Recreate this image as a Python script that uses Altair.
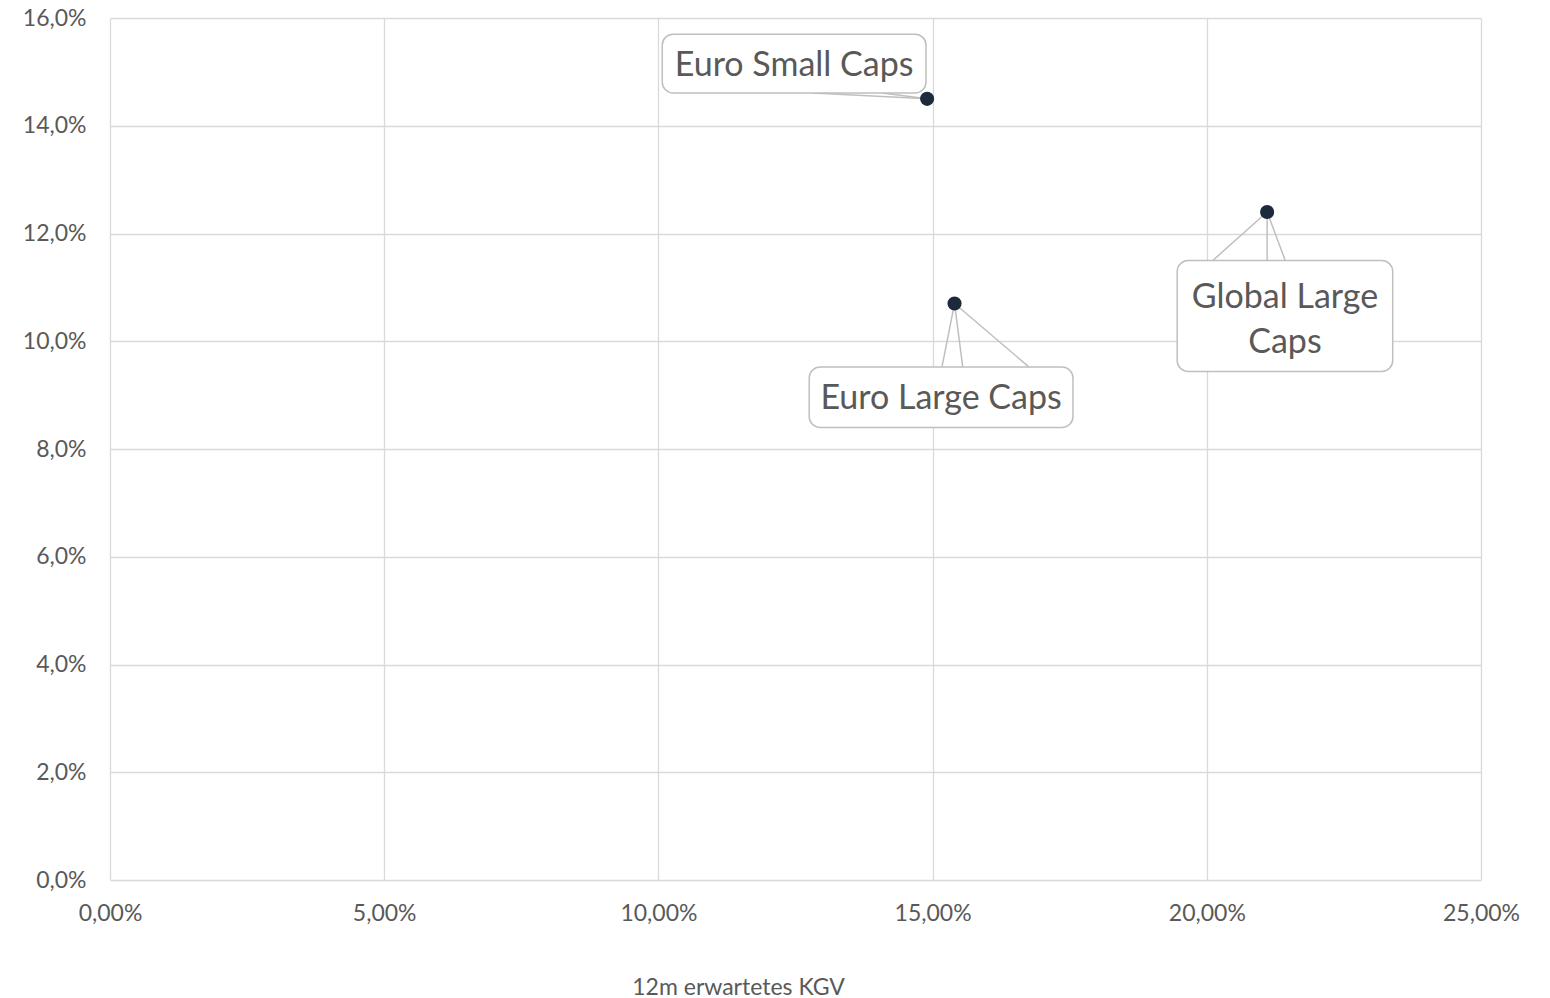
import altair as alt
import pandas as pd

# Scatter data: expected 12m P/E (x, %) vs. return (y, %)
names = ["Euro Small Caps", "Euro Large Caps", "Global Large Caps"]
kgv = [14.9, 15.4, 21.1]
rendite = [14.5, 10.7, 12.4]

# Axis ticks
x_ticks = [0, 5, 10, 15, 20, 25]
y_ticks = [0, 2, 4, 6, 8, 10, 12, 14, 16]

# Callout layout in data units (box extents and pointer base points)
label_text = ["Euro Small Caps", "Euro Large Caps", "Global Large\nCaps"]
box_x0 = [10.07, 12.75, 19.46]
box_x1 = [14.88, 17.56, 23.39]
box_y0 = [14.61, 8.40, 9.44]
box_y1 = [15.70, 9.52, 11.50]
pointer_owner = [0, 0, 1, 1, 1, 2, 2, 2]
pointer_x = [12.82, 14.08, 15.17, 15.55, 16.76, 20.11, 21.10, 21.43]
pointer_y = [14.61, 14.61, 9.52, 9.52, 9.52, 11.50, 11.50, 11.50]

FONT = "Lato"
TEXT = "#595959"
GRID = "#d9d9d9"
PLOT_W, PLOT_H = 1371, 862
LINE_H = 45  # px between label lines

points = pd.DataFrame({"name": names, "x": kgv, "y": rendite})
boxes = pd.DataFrame({
    "label": label_text,
    "x0": box_x0, "x1": box_x1, "y0": box_y0, "y1": box_y1,
})
boxes["cx"] = (boxes.x0 + boxes.x1) / 2
# first text line sits above the box centre when the label wraps
n_lines = boxes.label.str.count("\n") + 1
boxes["cy"] = (boxes.y0 + boxes.y1) / 2 + (n_lines - 1) * (LINE_H - 6) / 2 * 16 / PLOT_H
pointers = pd.DataFrame({
    "x": [kgv[i] for i in pointer_owner],
    "y": [rendite[i] for i in pointer_owner],
    "x2": pointer_x,
    "y2": pointer_y,
})

xs = alt.Scale(domain=[0, 25], nice=False)
ys = alt.Scale(domain=[0, 16], nice=False)

x_axis = alt.Axis(
    values=x_ticks, grid=True, gridColor=GRID, gridWidth=1.3, domain=False, ticks=False,
    labelExpr="replace(format(datum.value, '.2f'), '.', ',') + '%'",
    labelFont=FONT, labelFontSize=23, labelColor=TEXT, labelPadding=22,
    labelAlign="center", labelFlush=False, labelOverlap=False,
    title="12m erwartetes KGV", titleFont=FONT, titleFontSize=23, titleFontWeight="normal",
    titleColor=TEXT, titleX=628, titleY=107, titleAlign="center", titleBaseline="middle",
)
y_axis = alt.Axis(
    values=y_ticks, grid=True, gridColor=GRID, gridWidth=1.3, domain=False, ticks=False,
    labelExpr="replace(format(datum.value, '.1f'), '.', ',') + '%'",
    labelFont=FONT, labelFontSize=23, labelColor=TEXT, labelPadding=24,
    labelBaseline="middle", labelFlush=False, labelOverlap=False, title=None,
)

base_pts = alt.Chart(points)

grid = base_pts.mark_point(opacity=0).encode(
    x=alt.X("x:Q", scale=xs, axis=x_axis),
    y=alt.Y("y:Q", scale=ys, axis=y_axis),
)

leaders = alt.Chart(pointers).mark_rule(color="#bfbfbf", strokeWidth=1.5).encode(
    x=alt.X("x:Q", scale=xs), y=alt.Y("y:Q", scale=ys), x2="x2:Q", y2="y2:Q"
)

box = alt.Chart(boxes).mark_rect(
    fill="white", stroke="#bfbfbf", strokeWidth=1.5, cornerRadius=11
).encode(
    x=alt.X("x0:Q", scale=xs), x2="x1:Q", y=alt.Y("y0:Q", scale=ys), y2="y1:Q"
)

labels = alt.Chart(boxes).mark_text(
    font=FONT, fontSize=34, color=TEXT, lineBreak="\n", lineHeight=LINE_H,
    baseline="middle", dy=2
).encode(
    x=alt.X("cx:Q", scale=xs), y=alt.Y("cy:Q", scale=ys), text="label:N"
)

dots = base_pts.mark_circle(size=200, color="#1c2a3c", opacity=1).encode(
    x=alt.X("x:Q", scale=xs), y=alt.Y("y:Q", scale=ys)
)

chart = alt.layer(grid, leaders, box, labels, dots).properties(
    width=PLOT_W, height=PLOT_H,
    autosize=alt.AutoSizeParams(type="none"),
    padding={"left": 110, "top": 18, "right": 69, "bottom": 118},
    background="white",
).configure_view(strokeWidth=0)

chart.save("out.html", embed_options={"renderer": "svg", "actions": False})
